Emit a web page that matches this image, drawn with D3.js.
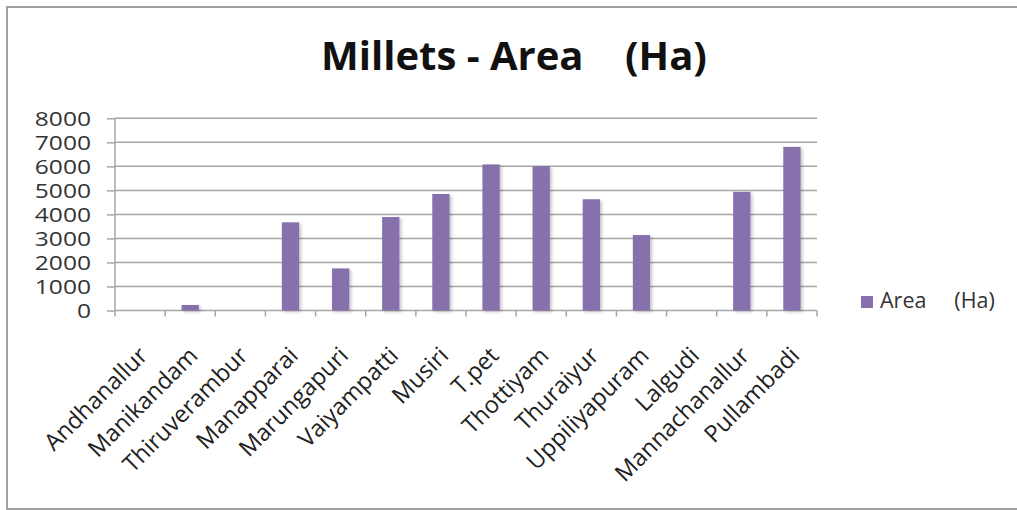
<!DOCTYPE html>
<html>
<head>
<meta charset="utf-8">
<script src="https://cdn.jsdelivr.net/npm/d3@7"></script>
<style>
  html, body { margin: 0; padding: 0; background: #fff; overflow: hidden; }
  svg { display: block; }
  text { font-family: "Open Sans", "Liberation Sans", sans-serif; fill: #222; }
</style>
</head>
<body>
<svg id="chart" width="1017" height="510"></svg>
<script>
// Millet cultivation area by block, in hectares
const blocks = ["Andhanallur", "Manikandam", "Thiruverambur", "Manapparai", "Marungapuri",
  "Vaiyampatti", "Musiri", "T.pet", "Thottiyam", "Thuraiyur", "Uppiliyapuram", "Lalgudi",
  "Mannachanallur", "Pullambadi"];
const areaHa = [0, 230, 0, 3670, 1750, 3890, 4850, 6080, 6010, 4630, 3140, 0, 4940, 6810];
const yTicks = [0, 1000, 2000, 3000, 4000, 5000, 6000, 7000, 8000];
const titleText = "Millets - Area    (Ha)";
const seriesName = "Area     (Ha)";

const svg = d3.select("#chart");
const barColor = "#8771ad";
const gridColor = "#a6a6a6";

const plot = { left: 115, right: 817, top: 118.3, bottom: 310.5 };

const x = d3.scaleBand().domain(blocks).range([plot.left, plot.right]).padding(0);
const y = d3.scaleLinear().domain([0, 8000]).range([plot.bottom, plot.top]);

// drop shadow for the columns
const defs = svg.append("defs");
const f = defs.append("filter").attr("id", "shadow")
  .attr("x", "-30%").attr("y", "-10%").attr("width", "160%").attr("height", "120%");
f.append("feDropShadow").attr("dx", 2).attr("dy", 1.5).attr("stdDeviation", 1.5)
  .attr("flood-color", "#000").attr("flood-opacity", 0.22);

// outer chart frame (open on the right edge)
svg.append("path").attr("d", "M1017,7 H7 V509 H1017")
  .attr("fill", "none").attr("stroke", "#a0a0a0").attr("stroke-width", 2);

// title
svg.append("text").attr("x", 514).attr("y", 70).attr("text-anchor", "middle")
  .style("white-space", "pre").attr("font-size", 40).attr("font-weight", 700)
  .style("fill", "#111").text(titleText);

// horizontal gridlines
svg.append("g").selectAll("line").data(yTicks.filter(d => d > 0)).join("line")
  .attr("x1", plot.left).attr("x2", plot.right)
  .attr("y1", d => y(d)).attr("y2", d => y(d))
  .attr("stroke", gridColor).attr("stroke-width", 1.5);

// y axis
const yAxis = svg.append("g").attr("transform", `translate(${plot.left},0)`)
  .call(d3.axisLeft(y).tickValues(yTicks).tickSize(8).tickPadding(16).tickFormat(d3.format("d")));
yAxis.select(".domain").remove();
yAxis.selectAll(".tick line").attr("stroke", gridColor).attr("stroke-width", 1.5);
// compact line box so stacked labels stay apart; widened horizontally
yAxis.selectAll(".tick text")
  .attr("x", 0).attr("dy", "0.36em")
  .attr("transform", "translate(-24,0) scale(1.26,1)")
  .attr("font-size", 19.5).attr("font-family", "\"Liberation Sans\", Arial, sans-serif")
  .style("fill", "#333");
yAxis.append("line").attr("x1", 0).attr("x2", 0).attr("y1", plot.top).attr("y2", plot.bottom + 6)
  .attr("stroke", gridColor).attr("stroke-width", 1.5);

// x axis baseline and category boundary ticks
svg.append("line").attr("x1", plot.left).attr("x2", plot.right)
  .attr("y1", plot.bottom).attr("y2", plot.bottom)
  .attr("stroke", gridColor).attr("stroke-width", 1.5);
const bounds = blocks.map(b => x(b)).concat([x(blocks[blocks.length - 1]) + x.bandwidth()]);
svg.append("g").selectAll("line").data(bounds.slice(1)).join("line")
  .attr("x1", d => d).attr("x2", d => d)
  .attr("y1", plot.bottom).attr("y2", plot.bottom + 6)
  .attr("stroke", gridColor).attr("stroke-width", 1.5);

// columns
const barW = x.bandwidth() * 0.345;
svg.append("g").attr("filter", "url(#shadow)").selectAll("rect")
  .data(blocks.map((b, i) => ({ b, v: areaHa[i] })).filter(d => d.v > 0)).join("rect")
  .attr("x", d => x(d.b) + x.bandwidth() / 2 - barW / 2)
  .attr("width", barW)
  .attr("y", d => y(d.v))
  .attr("height", d => y(0) - y(d.v))
  .attr("fill", barColor);

// rotated category labels
svg.append("g").selectAll("text").data(blocks).join("text")
  .attr("transform", d => `translate(${x(d) + x.bandwidth() / 2 + 9},357) rotate(-45)`)
  .attr("text-anchor", "end").attr("font-size", 23.5).style("fill", "#222")
  .text(d => d);

// legend
svg.append("rect").attr("x", 861).attr("y", 296).attr("width", 12).attr("height", 12)
  .attr("fill", barColor);
svg.append("text").attr("x", 880).attr("y", 308).attr("font-size", 21.5)
  .style("white-space", "pre").style("fill", "#333").text(seriesName);
</script>
</body>
</html>
